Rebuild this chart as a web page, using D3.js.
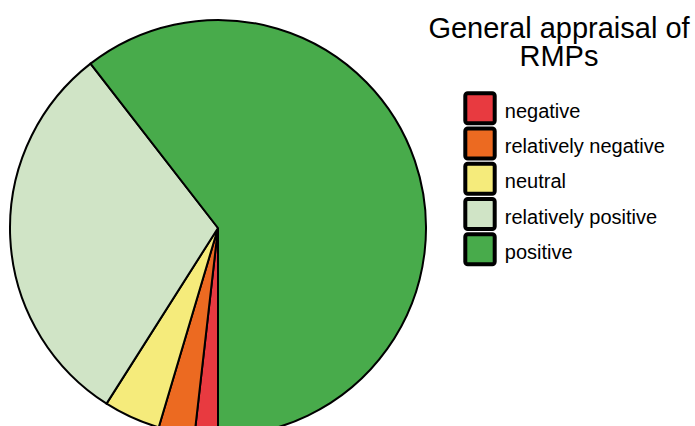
<!DOCTYPE html>
<html>
<head>
<meta charset="utf-8">
<script src="https://cdn.jsdelivr.net/npm/d3@7"></script>
<style>
  html, body { margin: 0; padding: 0; background: #fff; }
  svg { display: block; }
  text { font-family: "Liberation Sans", Arial, Helvetica, sans-serif; fill: #000; }
</style>
</head>
<body>
<svg id="chart" width="695" height="426"></svg>
<script>
// Share of responses per appraisal category (%)
const categories = ["negative", "relatively negative", "neutral", "relatively positive", "positive"];
const shares = [1.8, 2.8, 4.4, 30.5, 60.5];
const colors = ["#e83a40", "#ec6a21", "#f5eb7b", "#d0e4c6", "#48ab4b"];
const titleLines = ["General appraisal of", "RMPs"];

const svg = d3.select("#chart");

const cx = 218, cy = 228, radius = 208;

const color = d3.scaleOrdinal().domain(categories).range(colors);

// Slices run clockwise starting from six o'clock
const pie = d3.pie()
  .sort(null)
  .value(d => d.value)
  .startAngle(Math.PI)
  .endAngle(Math.PI * 3);

const arc = d3.arc().innerRadius(0).outerRadius(radius);

const data = categories.map((c, i) => ({ name: c, value: shares[i] }));

svg.append("g")
  .attr("transform", `translate(${cx},${cy})`)
  .selectAll("path")
  .data(pie(data))
  .join("path")
  .attr("d", arc)
  .attr("fill", d => color(d.data.name))
  .attr("stroke", "#000")
  .attr("stroke-width", 2)
  .attr("stroke-linejoin", "round");

// Title
const title = svg.append("text")
  .attr("x", 559)
  .attr("y", 38)
  .attr("text-anchor", "middle")
  .style("font-size", "29px");
title.selectAll("tspan")
  .data(titleLines)
  .join("tspan")
  .attr("x", 559)
  .attr("dy", (d, i) => i === 0 ? 0 : 27.5)
  .text(d => d);

// Legend
const legendY = d3.scalePoint()
  .domain(categories)
  .range([108.3, 249.3]);

const legend = svg.append("g")
  .selectAll("g")
  .data(categories)
  .join("g")
  .attr("transform", d => `translate(465.3,${legendY(d)})`);

legend.append("rect")
  .attr("x", 0)
  .attr("y", -15)
  .attr("width", 29.4)
  .attr("height", 30)
  .attr("rx", 2.5)
  .attr("fill", d => color(d))
  .attr("stroke", "#000")
  .attr("stroke-width", 4);

legend.append("text")
  .attr("x", 39.5)
  .attr("y", 9.5)
  .style("font-size", "20px")
  .text(d => d);
</script>
</body>
</html>
